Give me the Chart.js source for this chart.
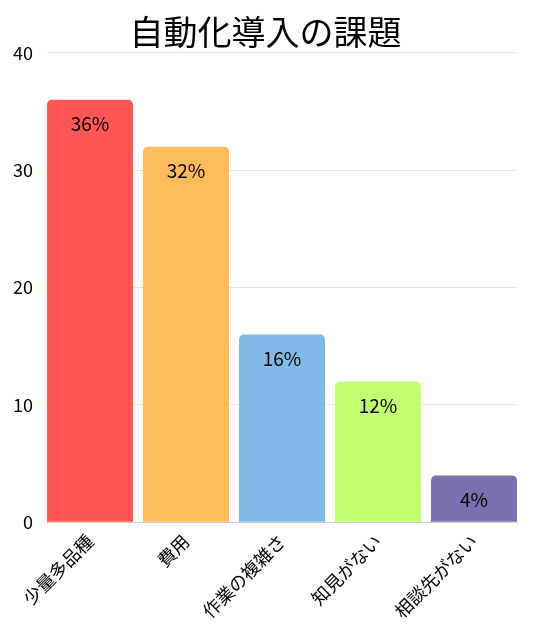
<!DOCTYPE html>
<html>
<head>
<meta charset="utf-8">
<script src="https://cdn.jsdelivr.net/npm/chart.js@4/dist/chart.umd.min.js"></script>
<style>
    html, body { margin: 0; padding: 0; background: #fff; }
    #wrap { width: 541px; height: 642px; }
</style>
</head>
<body>
<div id="wrap"><canvas id="chart"></canvas></div>
<script>
// --- DATA ---
const categories = ['少量多品種', '費用', '作業の複雑さ', '知見がない', '相談先がない'];
const values = [36, 32, 16, 12, 4];
const barColors = ['#FF5555', '#FEBB5A', '#80BAE6', '#C2FF6F', '#7B6FAE'];
const yTicks = [0, 10, 20, 30, 40];

const FONT = "'Noto Sans CJK JP', 'Noto Sans', sans-serif";
const BAR_RATIO = 0.896; // bars touch both edges of the plot area

// draw "36%" style labels just inside the top of each bar
const valueLabels = {
    id: 'valueLabels',
    afterDatasetsDraw(chart) {
        const ctx = chart.ctx;
        const meta = chart.getDatasetMeta(0);
        ctx.save();
        ctx.font = `19px ${FONT}`;
        ctx.fillStyle = '#000';
        ctx.textAlign = 'center';
        ctx.textBaseline = 'middle';
        meta.data.forEach((bar, i) => {
            ctx.fillText(values[i] + '%', bar.x, bar.y + 24);
        });
        ctx.restore();
    }
};

new Chart(document.getElementById('chart'), {
    type: 'bar',
    data: {
        datasets: [{
            data: values.map((v, i) => ({ x: i, y: v })),
            backgroundColor: barColors,
            borderRadius: 5,
            borderSkipped: 'start',
            categoryPercentage: 1,
            barPercentage: BAR_RATIO
        }]
    },
    options: {
        responsive: true,
        maintainAspectRatio: false,
        animation: false,
        layout: { padding: { left: 0, right: 10, top: 10, bottom: 12 } },
        plugins: {
            legend: { display: false },
            tooltip: { enabled: false },
            title: {
                display: true,
                text: '自動化導入の課題',
                color: '#000',
                font: { family: FONT, size: 34, weight: 'normal' },
                padding: { top: 2, bottom: 0 }
            }
        },
        scales: {
            x: {
                type: 'linear',
                offset: false,
                min: -BAR_RATIO / 2,
                max: categories.length - 1 + BAR_RATIO / 2,
                afterBuildTicks(axis) {
                    axis.ticks = categories.map((_, i) => ({ value: i }));
                },
                afterFit(axis) {
                    axis.paddingLeft = 0;
                },
                grid: { display: false, drawTicks: false },
                border: { display: true, color: '#ccc' },
                ticks: {
                    color: '#000',
                    font: { family: FONT, size: 18 },
                    maxRotation: 45,
                    minRotation: 45,
                    padding: 8,
                    callback: (v) => categories[v]
                }
            },
            y: {
                min: 0,
                max: 40,
                afterBuildTicks(axis) {
                    axis.ticks = yTicks.map(v => ({ value: v }));
                },
                afterFit(axis) {
                    axis.width = 47;
                },
                grid: { color: '#e5e5e5', drawTicks: false },
                border: { display: false },
                ticks: {
                    color: '#000',
                    font: { family: FONT, size: 18 },
                    padding: 14
                }
            },
            // empty right-hand axis, only to leave a margin beside the plot
            yRight: {
                position: 'right',
                display: true,
                min: 0,
                max: 40,
                grid: { display: false, drawTicks: false },
                border: { display: false },
                ticks: { display: false },
                afterFit(axis) {
                    axis.width = 14;
                }
            }
        }
    },
    plugins: [valueLabels]
});
</script>
</body>
</html>
